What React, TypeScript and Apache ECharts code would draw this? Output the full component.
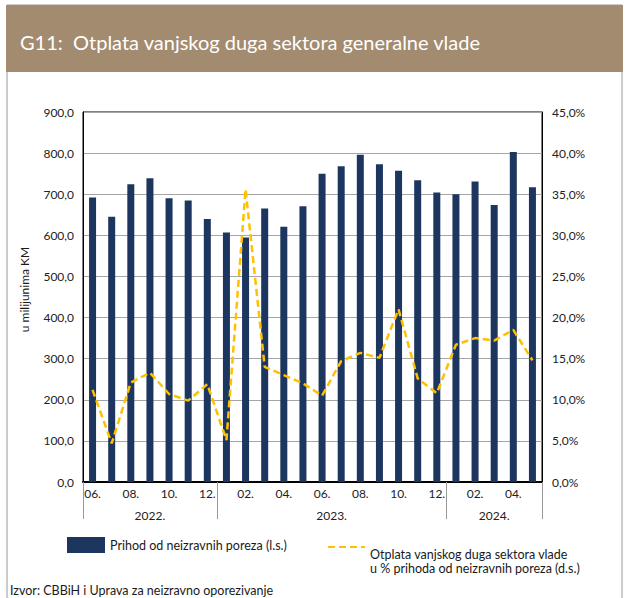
import React, { useEffect, useRef } from "react";
import * as echarts from "echarts";

const months = ["06.", "07.", "08.", "09.", "10.", "11.", "12.", "01.", "02.", "03.", "04.", "05.", "06.", "07.", "08.", "09.", "10.", "11.", "12.", "01.", "02.", "03.", "04.", "05."];
const yearLabels = ["2022.", "2023.", "2024."];
const yearCenters = [3.5, 13, 21.5];
const yearBounds = [0, 7, 19, 24];
const revenue = [692, 645, 724, 739, 690, 685, 640, 607, 595, 665, 621, 671, 750, 768, 796, 773, 757, 734, 704, 700, 731, 674, 803, 717];
const debtShare = [11.2, 4.7, 12.1, 13.3, 10.7, 9.9, 11.9, 5.1, 35.6, 14.0, 13.0, 12.0, 10.5, 14.7, 15.7, 15.1, 21.0, 12.6, 10.8, 16.7, 17.5, 17.2, 18.5, 14.8];

const barName = "Prihod od neizravnih poreza (l.s.)";
const lineName = "Otplata vanjskog duga sektora vlade\nu % prihoda od neizravnih poreza (d.s.)";
const FONT = "Lato";

export default function App() {
  const ref = useRef<HTMLDivElement>(null);
  useEffect(() => {
    document.body.style.margin = "0";
    const chart = echarts.init(ref.current!, undefined, { renderer: "svg" });
    const fmt1 = (v: number) => v.toFixed(1).replace(".", ",");
    chart.setOption({
      animation: false,
      textStyle: { fontFamily: FONT },
      graphic: [
        { type: "rect", shape: { x: 7, y: 5, width: 615, height: 600 }, style: { fill: "none", stroke: "#9a9a9a", lineWidth: 1 }, silent: true },
        { type: "rect", shape: { x: 6, y: 5, width: 617, height: 67 }, style: { fill: "#a28b6f" }, silent: true },
        { type: "text", x: 20, y: 42, style: { text: "G11:  Otplata vanjskog duga sektora generalne vlade", fill: "#ffffff", font: `20px ${FONT}`, verticalAlign: "middle" } },
        { type: "text", x: 10, y: 590, style: { text: "Izvor: CBBiH i Uprava za neizravno oporezivanje", fill: "#1a1a1a", font: `12.5px ${FONT}`, verticalAlign: "middle" } },
      ],
      grid: { left: 83, right: 84, top: 112, bottom: 116, show: true, borderColor: "#000", borderWidth: 1 },
      legend: [
        {
          data: [barName], left: 67, top: 537, padding: 0, itemWidth: 38, itemHeight: 16, icon: "rect",
          textStyle: { fontSize: 12.5, color: "#1a1a1a", fontFamily: FONT }, itemGap: 2,
        },
        {
          data: [lineName], left: 327, top: 519, padding: 0, itemWidth: 37, itemHeight: 14,
          itemStyle: { opacity: 0 },
          formatter: (name: string) => "\n\n" + name,
          textStyle: { fontSize: 12.5, color: "#1a1a1a", fontFamily: FONT, lineHeight: 14 }, itemGap: 2,
        },
      ],
      xAxis: [
        {
          type: "category", data: months, gridIndex: 0,
          axisLine: { show: true, lineStyle: { color: "#000", width: 2 } },
          axisTick: { show: false },
          axisLabel: { interval: 1, fontSize: 12, color: "#222", margin: 5 },
        },
        {
          type: "value", min: 0, max: 24, position: "bottom", gridIndex: 0,
          axisLine: { show: false }, splitLine: { show: false },
          axisTick: { show: true, length: 37, customValues: yearBounds, lineStyle: { color: "#999", width: 1 } },
          axisLabel: {
            customValues: yearCenters, fontSize: 12, color: "#222", margin: 27,
            formatter: (v: number) => yearLabels[yearCenters.indexOf(v)] ?? "",
          },
        },
      ],
      yAxis: [
        {
          type: "value", min: 0, max: 900, interval: 100,
          name: "u milijunima KM", nameLocation: "middle", nameGap: 53, nameRotate: 90,
          nameTextStyle: { fontSize: 12, color: "#1a1a1a", padding: [0, 0, 0, 15] },
          axisLine: { show: true, lineStyle: { color: "#000" } }, axisTick: { show: false },
          axisLabel: { formatter: fmt1, fontSize: 12, color: "#222", margin: 9 },
          splitLine: { lineStyle: { color: "#a6a6a6", width: 1 } },
        },
        {
          type: "value", min: 0, max: 45, interval: 5, position: "right",
          axisLine: { show: true, lineStyle: { color: "#000" } }, axisTick: { show: false },
          axisLabel: { formatter: (v: number) => fmt1(v) + "%", fontSize: 12, color: "#222", margin: 10 },
          splitLine: { show: false },
        },
      ],
      series: [
        {
          name: barName, type: "bar", data: revenue, xAxisIndex: 0, yAxisIndex: 0,
          barWidth: 7, itemStyle: { color: "#1c365f" },
        },
        {
          name: lineName, type: "line", data: debtShare, xAxisIndex: 0, yAxisIndex: 1,
          symbol: "none", lineStyle: { color: "#ffc000", width: 2.5, type: [7, 4] }, itemStyle: { color: "#ffc000" },
        },
      ],
    });
    return () => chart.dispose();
  }, []);
  return <div ref={ref} style={{ width: 626, height: 598 }} />;
}
